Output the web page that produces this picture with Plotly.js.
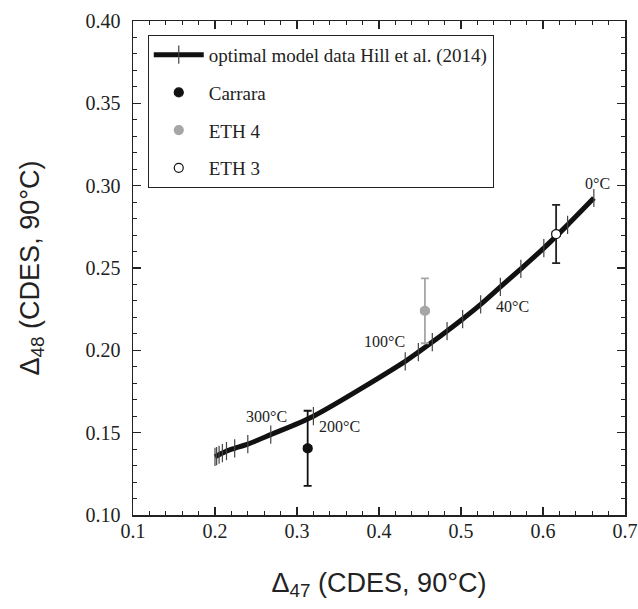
<!DOCTYPE html>
<html>
<head>
<meta charset="utf-8">
<script src="https://cdn.plot.ly/plotly-3.0.1.min.js"></script>
<style>html,body{margin:0;padding:0;background:#fff;}#chart{width:638px;height:609px;}</style>
</head>
<body>
<div id="chart"></div>
<script>
// Hill et al. (2014) optimal model: temperature ticks along the curve
const temperatureC = [0, 10, 20, 30, 40, 50, 60, 70, 80, 90, 100, 200, 300, 400, 500, 600, 700, 800, 900, 1000];
const d47Model = [0.662, 0.630, 0.601, 0.573, 0.548, 0.524, 0.502, 0.483, 0.465, 0.448, 0.432, 0.320, 0.268, 0.240, 0.224, 0.214, 0.209, 0.205, 0.202, 0.200];
const d48Model = [0.2925, 0.2762, 0.2621, 0.2495, 0.2385, 0.2279, 0.2190, 0.2117, 0.2050, 0.1989, 0.1933, 0.1600, 0.1488, 0.1430, 0.1405, 0.1388, 0.1376, 0.1366, 0.1358, 0.1353];

// Measured samples
const sampleNames = ['Carrara', 'ETH 4', 'ETH 3'];
const sampleD47 = [0.313, 0.456, 0.616];
const sampleD48 = [0.1405, 0.2240, 0.2706];
const sampleD48Err = [0.0228, 0.0197, 0.0177];
const sampleD47Err = [0.004, 0.004, 0.004];

// Labelled temperatures
const labeledTemps = [0, 40, 100, 200, 300];

// Axis tick values
const xTickVals = [0.1, 0.2, 0.3, 0.4, 0.5, 0.6, 0.7];
const yTickVals = [0.10, 0.15, 0.20, 0.25, 0.30, 0.35, 0.40];

const serif = 'Liberation Serif, Times New Roman, serif';
const sans = 'Liberation Sans, Arial, sans-serif';
const sampleColors = ['#111111', '#a6a6a6', '#ffffff'];
const sampleLineColors = ['#111111', '#a6a6a6', '#111111'];
const errColors = ['#111111', '#a6a6a6', '#222222'];

const traces = [];
traces.push({
  x: d47Model, y: d48Model, type: 'scatter', mode: 'lines+markers',
  name: 'optimal model data Hill et al. (2014)', legendgroup: 'g0',
  line: {color: '#111111', width: 5, shape: 'spline', smoothing: 0.8},
  marker: {symbol: 'line-ns-open', size: 13, color: '#444444', line: {color: '#444444', width: 1.2}},
  hoverinfo: 'skip'
});
// error bars (not in legend)
sampleNames.forEach(function(n, i) {
  traces.push({
    x: [sampleD47[i]], y: [sampleD48[i]], type: 'scatter', mode: 'markers',
    showlegend: false, hoverinfo: 'skip',
    marker: {size: 1, color: 'rgba(0,0,0,0)'},
    error_y: {type: 'data', array: [sampleD48Err[i]], color: errColors[i], thickness: 1.8, width: 4},
    error_x: {type: 'data', array: [sampleD47Err[i]], color: errColors[i], thickness: 2.5, width: 3}
  });
});
// sample markers (legend entries)
sampleNames.forEach(function(n, i) {
  traces.push({
    x: [sampleD47[i]], y: [sampleD48[i]], type: 'scatter', mode: 'markers',
    name: n, legendgroup: 'g' + (i + 1),
    marker: {symbol: 'circle', size: 9, color: sampleColors[i], line: {color: sampleLineColors[i], width: 1.2}}
  });
});

const labelShift = {0: [4, 15], 40: [12, -20], 100: [-21, 20], 200: [26, -10], 300: [-4, 18]};
const annotations = labeledTemps.map(function(t) {
  const k = temperatureC.indexOf(t);
  return {
    x: d47Model[k], y: d48Model[k], xref: 'x', yref: 'y',
    text: t + '°C', showarrow: false,
    xshift: labelShift[t][0], yshift: labelShift[t][1],
    font: {family: serif, size: 16, color: '#222'}
  };
});

const axisCommon = {
  ticks: 'inside', ticklen: 8, tickwidth: 1.2, tickcolor: '#222',
  showline: true, linewidth: 1.5, linecolor: '#222', mirror: 'ticks',
  showgrid: false, zeroline: false, automargin: false,
  ticklabeloverflow: 'allow',
  tickfont: {family: serif, size: 20, color: '#222'}
};

const layout = {
  width: 638, height: 609,
  margin: {l: 133, r: 13, t: 21, b: 94},
  paper_bgcolor: '#fff', plot_bgcolor: '#fff',
  showlegend: true,
  xaxis: Object.assign({}, axisCommon, {
    range: [0.1, 0.7], tickmode: 'array', tickvals: xTickVals,
    ticktext: xTickVals.map(function(v) { return v.toFixed(1); }),
    ticklabelstandoff: -3,
    minor: {dtick: 0.02, tick0: 0.1, ticks: 'inside', ticklen: 4, tickwidth: 1, tickcolor: '#222'},
    title: {text: 'Δ<sub>47</sub> (CDES, 90°C)', font: {family: sans, size: 27, color: '#222'}, standoff: 32}
  }),
  yaxis: Object.assign({}, axisCommon, {
    range: [0.1, 0.4], tickmode: 'array', tickvals: yTickVals,
    ticktext: yTickVals.map(function(v) { return v.toFixed(2); }),
    ticklabelstandoff: 7,
    minor: {dtick: 0.01, tick0: 0.1, ticks: 'inside', ticklen: 4, tickwidth: 1, tickcolor: '#222'},
    title: {text: 'Δ<sub>48</sub> (CDES, 90°C)', font: {family: sans, size: 27, color: '#222'}, standoff: 38}
  }),
  legend: {
    x: 0.03, y: 0.972, xanchor: 'left', yanchor: 'top',
    bgcolor: '#fff', bordercolor: '#222', borderwidth: 1,
    font: {family: serif, size: 19, color: '#222'},
    traceorder: 'grouped', tracegroupgap: 10, itemwidth: 50
  },
  annotations: annotations
};

Plotly.newPlot('chart', traces, layout, {displayModeBar: false, staticPlot: true});
</script>
</body>
</html>
